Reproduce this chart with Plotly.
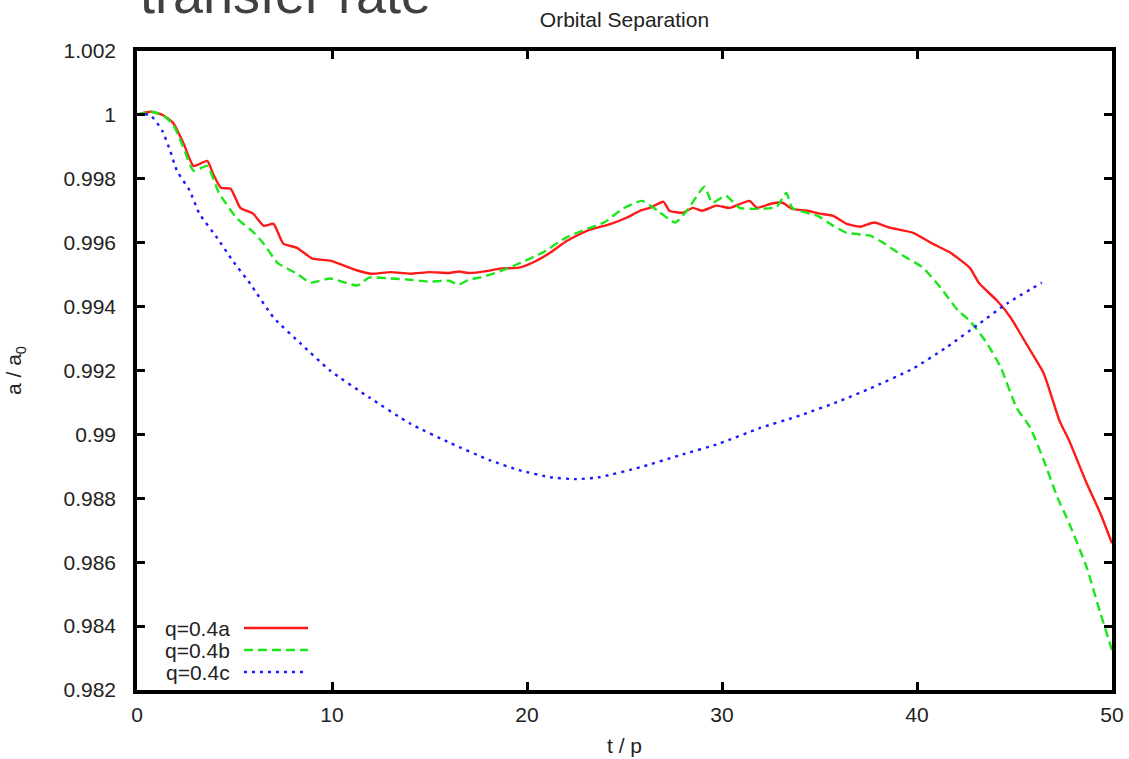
import plotly.graph_objects as go

# ---- data ----
t_a = [0, 0.15, 0.7, 1.3, 1.85, 2.4, 2.9, 3.6, 3.9, 4.3, 4.8, 5.3, 5.95, 6.5, 7.0, 7.5, 8.2, 9.0, 9.9,
       11.3, 12.0, 13, 14, 15, 16, 16.5, 17, 18, 18.6, 19.6, 20.3, 21.2, 22.05, 23.1, 24.3, 25.1, 25.8,
       26.3, 27.0, 27.3, 28.0, 28.5, 29.0, 29.7, 30.4, 31.4, 31.8, 32.5, 33.1, 33.6, 34.4, 35.0, 35.7,
       36.4, 37.1, 37.8, 38.6, 39.8, 40.8, 41.7, 42.7, 43.2, 44.1, 44.8, 45.6, 46.5, 47.3, 47.8, 48.7,
       49.4, 50]
a_a = [1.0, 1.00003, 1.0001, 1.0, 0.99975, 0.99909, 0.9984, 0.99856, 0.99816, 0.99772, 0.99769, 0.99709,
       0.99691, 0.99653, 0.99659, 0.99597, 0.99584, 0.9955, 0.99544, 0.99513, 0.99503, 0.99508, 0.99503,
       0.99508, 0.99505, 0.9951, 0.99505, 0.99512, 0.99519, 0.99522, 0.99538, 0.99569, 0.99606, 0.99638,
       0.99659, 0.99678, 0.997, 0.99709, 0.99728, 0.997, 0.99694, 0.99709, 0.997, 0.99716, 0.99709,
       0.99731, 0.99709, 0.99722, 0.99725, 0.99706, 0.997, 0.99691, 0.99684, 0.99659, 0.9965, 0.99663,
       0.99647, 0.99631, 0.99597, 0.99569, 0.99522, 0.99472, 0.99419, 0.99366, 0.99284, 0.99191, 0.99044,
       0.98981, 0.98847, 0.98753, 0.98659]

t_b = [0, 0.15, 0.7, 1.3, 1.85, 2.4, 2.9, 3.6, 4.2, 5.1, 6.0, 6.5, 7.2, 8.2, 8.9, 9.9, 11.3, 11.9, 13,
       14, 15, 16, 16.5, 17, 17.6, 18.6, 19.6, 20.8, 22.0, 23.1, 24.0, 24.9, 25.9, 26.7, 27.6, 28.2,
       29.1, 29.5, 30.2, 30.9, 31.9, 32.8, 33.3, 33.6, 34.9, 35.7, 36.4, 37.6, 38.1, 39.1, 40.3, 41.2,
       42.1, 42.7, 43.6, 44.3, 45.1, 45.8, 46.5, 47.2, 47.8, 48.7, 49.4, 50]
a_b = [1.0, 1.00003, 1.0001, 1.0, 0.9997, 0.99895, 0.99825, 0.9984, 0.99756, 0.99678, 0.99631, 0.99597,
       0.99537, 0.99503, 0.99475, 0.99488, 0.99466, 0.99491, 0.99488, 0.99484, 0.99478, 0.99481, 0.99469,
       0.99484, 0.99491, 0.9951, 0.99535, 0.99569, 0.99616, 0.99644, 0.99665, 0.99706, 0.99731, 0.997,
       0.99663, 0.997, 0.99775, 0.99725, 0.99747, 0.99709, 0.99706, 0.99712, 0.99756, 0.99709, 0.99684,
       0.99653, 0.99631, 0.99622, 0.99606, 0.99566, 0.99522, 0.9946, 0.99388, 0.99356, 0.99284, 0.99209,
       0.99084, 0.99022, 0.98919, 0.98803, 0.98722, 0.98584, 0.98441, 0.98325]

t_c = [0, 0.67, 1.3, 1.7, 2.05, 2.7, 3.2, 4.1, 4.9, 5.8, 7.0, 8.4, 9.9, 11.9, 14.0, 16.1, 18.1, 19.6,
       21.2, 22.5, 23.7, 25.8, 27.8, 29.9, 31.9, 34.0, 36.1, 37.6, 39.8, 41.5, 43.2, 44.6, 46.4]
a_c = [1.0, 1.0, 0.9995, 0.99888, 0.99825, 0.99763, 0.99691, 0.99616, 0.99544, 0.99472, 0.99366, 0.99284,
       0.992, 0.99116, 0.99034, 0.98972, 0.98919, 0.98888, 0.98866, 0.9886, 0.98866, 0.98897, 0.98934,
       0.98972, 0.99019, 0.99059, 0.99106, 0.99144, 0.99206, 0.99272, 0.99347, 0.99409, 0.99475]

series_names = ["q=0.4a", "q=0.4b", "q=0.4c"]
series_colors = ["#ff1a1a", "#1ae61a", "#1a1aff"]
series_dash = ["solid", "9px,5px", "3px,5px"]

x_ticks = [0, 10, 20, 30, 40, 50]
y_ticks = [0.982, 0.984, 0.986, 0.988, 0.99, 0.992, 0.994, 0.996, 0.998, 1.0, 1.002]
y_tick_labels = ["0.982", "0.984", "0.986", "0.988", "0.99", "0.992", "0.994", "0.996", "0.998", "1", "1.002"]

FONT = "Liberation Sans, Arial, sans-serif"
TXT = "#222222"
W, H = 1129, 759
L, R, T, B = 137, 1112, 51, 690

fig = go.Figure()
for tt, aa, nm, col, dsh in zip([t_a, t_b, t_c], [a_a, a_b, a_c], series_names, series_colors, series_dash):
    fig.add_trace(go.Scatter(x=tt, y=aa, mode="lines", name=nm,
                             line=dict(color=col, width=2.4, dash=dsh, shape="spline", smoothing=0.5),
                             showlegend=False))

def px(X):
    return (X - L) / (R - L)

def py(Y):
    return (B - Y) / (B - T)

# manual gnuplot-style key (text right-aligned, sample to its right)
key_rows = [628, 650, 672]
for nm, col, dsh, yy in zip(series_names, series_colors, series_dash, key_rows):
    fig.add_annotation(x=px(232), y=py(yy), xref="paper", yref="paper", text=nm, showarrow=False,
                       xanchor="right", yanchor="middle", font=dict(family=FONT, size=21, color=TXT))
    fig.add_shape(type="line", xref="paper", yref="paper", x0=px(244), x1=px(308), y0=py(yy), y1=py(yy),
                  line=dict(color=col, width=2.4, dash=dsh))

# cropped slide heading at the very top
fig.add_annotation(x=px(138), y=1 + (T - 26) / (B - T), xref="paper", yref="paper", text="transfer rate",
                   showarrow=False, xanchor="left", yanchor="bottom",
                   font=dict(family=FONT, size=54, color="#404040"))

axis_common = dict(showline=True, linecolor="black", linewidth=3.5, mirror="allticks",
                   ticks="inside", ticklen=8, tickwidth=3, tickcolor="black",
                   showgrid=False, zeroline=False, automargin=False,
                   tickfont=dict(family=FONT, size=21, color=TXT))

fig.update_layout(
    width=W, height=H,
    margin=dict(l=L, r=W - R, t=T, b=H - B, pad=0, autoexpand=False),
    plot_bgcolor="white", paper_bgcolor="white",
    title=dict(text="Orbital Separation", x=(L + R) / 2 / W, xanchor="center",
               y=1 - 20 / H, yanchor="middle", font=dict(family=FONT, size=21, color=TXT)),
    xaxis=dict(range=[0, 50], tickvals=x_ticks, ticklabelstandoff=3,
               title=dict(text="t / p", font=dict(family=FONT, size=21, color=TXT), standoff=14),
               **axis_common),
    yaxis=dict(range=[0.982, 1.002], tickvals=y_ticks, ticktext=y_tick_labels, ticklabelstandoff=13,
               title=dict(text="a / a<sub>0</sub>", font=dict(family=FONT, size=21, color=TXT), standoff=37),
               **axis_common),
)

fig.write_html("out.html")
